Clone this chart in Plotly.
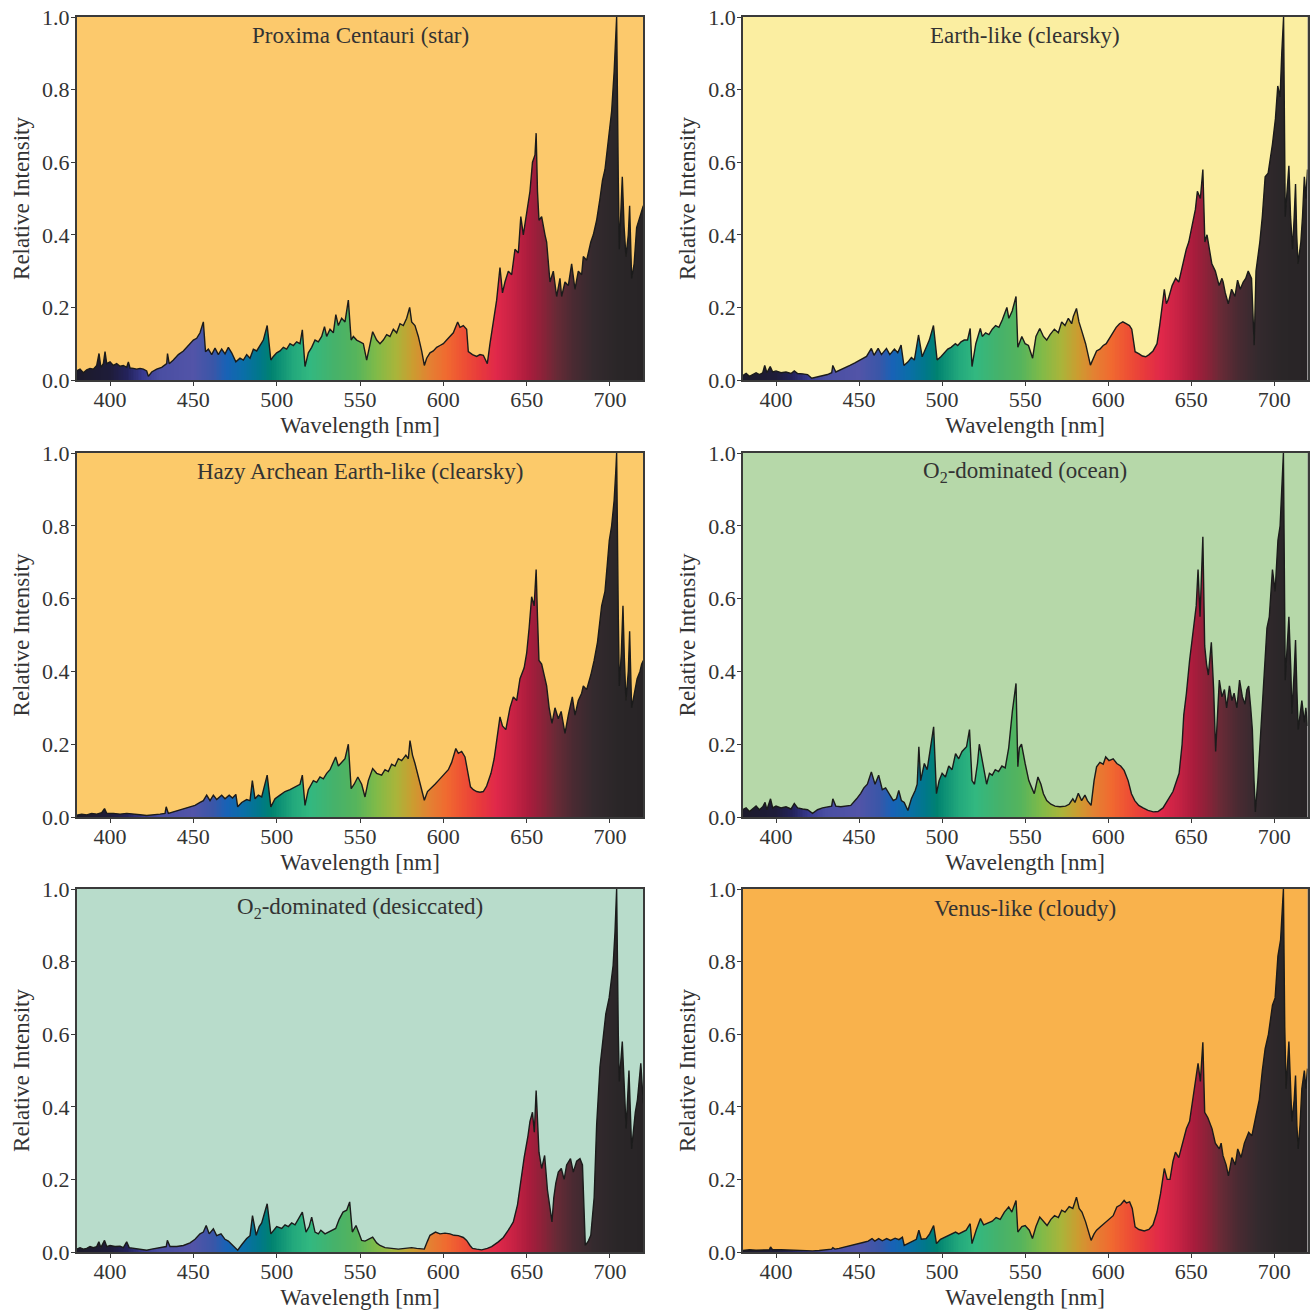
import plotly.graph_objects as go

# ---------------- data ----------------
panel_titles = [
    "Proxima Centauri (star)",
    "Earth-like (clearsky)",
    "Hazy Archean Earth-like (clearsky)",
    "O<sub>2</sub>-dominated (ocean)",
    "O<sub>2</sub>-dominated (desiccated)",
    "Venus-like (cloudy)",
]
panel_bg = ["#fcc96c", "#fbeea1", "#fcca6a", "#b6d8a9", "#b8dccb", "#f9b24c"]

x_ticks = [400, 450, 500, 550, 600, 650, 700]
y_ticks = [0.0, 0.2, 0.4, 0.6, 0.8, 1.0]

proxima_wl = [380, 382, 384, 386, 388, 390, 392, 393.4, 394.5, 396, 397, 398, 400, 402, 404, 406, 408, 410, 411, 412, 414, 416, 418, 420, 422, 423, 425, 428, 431, 434, 434.5, 435.5, 438, 441, 444, 447, 450, 452, 454, 456, 457.3, 459, 461, 463, 465, 467, 469, 471, 473, 475.5, 478, 480, 482, 484, 486, 488, 490, 492, 494.3, 496.5, 498, 500, 502, 504, 506, 508, 510, 512, 514, 515.4, 517, 519, 521, 523, 525, 527, 528.7, 530, 532, 534, 535.5, 537, 539, 541, 543, 544.7, 546, 548, 550, 552, 554, 556, 557.6, 560, 562, 564, 566, 568, 570, 572, 574, 576, 578, 579.8, 581, 583, 585, 587, 588.6, 590, 592, 594, 596, 598, 600, 602, 604, 606, 608.6, 610, 612, 614, 615, 617.5, 620, 622, 624, 626.4, 628, 630, 632, 634, 635.5, 637, 639, 641, 643, 645, 646.5, 648, 650, 652, 653.5, 655, 655.7, 656.5, 657.4, 659, 661, 662, 664, 666, 668, 670, 671, 673, 675, 677, 679, 681, 683, 684, 686, 688.5, 690, 692, 694, 695.5, 697, 699.6, 701, 702.5, 703.5, 704, 705, 705.6, 707.4, 708.5, 709.6, 711, 711.8, 713, 714.5, 716, 718, 720]
proxima_val = [0.025, 0.03, 0.02, 0.028, 0.032, 0.03, 0.04, 0.073, 0.035, 0.045, 0.078, 0.045, 0.05, 0.04, 0.045, 0.038, 0.04, 0.035, 0.05, 0.033, 0.032, 0.03, 0.032, 0.03, 0.025, 0.01, 0.022, 0.03, 0.035, 0.045, 0.073, 0.045, 0.055, 0.07, 0.08, 0.095, 0.11, 0.115, 0.13, 0.16, 0.078, 0.085, 0.07, 0.088, 0.07, 0.085, 0.072, 0.09, 0.075, 0.05, 0.06, 0.055, 0.07, 0.06, 0.085, 0.08, 0.095, 0.11, 0.15, 0.055, 0.065, 0.075, 0.08, 0.09, 0.085, 0.10, 0.095, 0.105, 0.10, 0.138, 0.037, 0.075, 0.09, 0.11, 0.105, 0.12, 0.147, 0.12, 0.14, 0.13, 0.18, 0.15, 0.17, 0.16, 0.22, 0.11, 0.12, 0.11, 0.105, 0.10, 0.055, 0.10, 0.133, 0.11, 0.10, 0.11, 0.125, 0.12, 0.14, 0.13, 0.155, 0.15, 0.17, 0.20, 0.16, 0.15, 0.12, 0.08, 0.04, 0.06, 0.075, 0.08, 0.09, 0.095, 0.10, 0.11, 0.12, 0.13, 0.16, 0.145, 0.15, 0.14, 0.078, 0.07, 0.065, 0.07, 0.068, 0.045, 0.10, 0.16, 0.22, 0.31, 0.24, 0.27, 0.30, 0.29, 0.36, 0.35, 0.45, 0.40, 0.46, 0.52, 0.60, 0.62, 0.68, 0.52, 0.44, 0.45, 0.40, 0.38, 0.27, 0.30, 0.23, 0.28, 0.23, 0.27, 0.26, 0.32, 0.25, 0.30, 0.29, 0.34, 0.33, 0.38, 0.40, 0.44, 0.50, 0.55, 0.58, 0.68, 0.74, 0.85, 0.94, 1.0, 0.55, 0.36, 0.56, 0.42, 0.34, 0.40, 0.48, 0.28, 0.32, 0.42, 0.45, 0.48]

earth_wl = [380, 382, 384, 386, 388, 390, 392, 393.2, 394.5, 396.5, 398, 400, 403, 406, 409, 411, 413, 416, 419, 421.5, 425, 428, 431, 433.5, 434.2, 436, 439, 441.5, 444.5, 447.5, 450.5, 452.5, 454.5, 457.4, 459, 461.5, 463.5, 466.5, 468.5, 471.3, 473.3, 475.3, 477, 479.5, 481.5, 483.3, 485.8, 488, 490.3, 492.3, 494.8, 497, 499.4, 501.4, 503.4, 505.4, 508, 509.4, 511.4, 513.3, 515.3, 516.9, 518, 520.3, 523, 524.2, 526.2, 528.2, 530.2, 532.2, 534.2, 536.2, 539, 540.2, 542.2, 544.5, 545.6, 548, 550, 552, 554.5, 556.5, 558.8, 561, 563, 565, 567.6, 570, 572, 574, 576, 578, 579, 580.9, 582.4, 583.9, 586.4, 589.3, 591, 593, 595, 597, 598.8, 600.8, 602.8, 604.8, 606.8, 608.8, 610.8, 612.8, 614.2, 616.2, 618.6, 620.6, 622.6, 624.6, 627, 629.4, 631, 632.5, 633.8, 635, 636, 638.5, 640.6, 642.5, 644.5, 647, 648.5, 650.5, 652.5, 653.7, 655.5, 657, 658.2, 659.5, 661, 662.4, 664.5, 666.8, 668.5, 669.2, 670.5, 672.3, 674.3, 676.3, 677.9, 679.5, 681.3, 682.8, 684.3, 686.3, 687.9, 689, 691.3, 692.8, 694.5, 696.3, 698.9, 700.7, 702.1, 703.5, 704.5, 705.6, 706.6, 707.5, 708.8, 709.8, 711, 712, 712.8, 713.5, 714.3, 716, 717, 718.1, 719, 720]
earth_val = [0.012, 0.018, 0.01, 0.015, 0.02, 0.015, 0.02, 0.04, 0.02, 0.037, 0.022, 0.025, 0.02, 0.022, 0.018, 0.025, 0.018, 0.017, 0.015, 0.005, 0.008, 0.012, 0.015, 0.02, 0.04, 0.022, 0.028, 0.032, 0.04, 0.047, 0.055, 0.06, 0.065, 0.087, 0.068, 0.087, 0.07, 0.087, 0.07, 0.085, 0.075, 0.096, 0.04, 0.05, 0.062, 0.055, 0.124, 0.064, 0.09, 0.11, 0.15, 0.055, 0.065, 0.075, 0.085, 0.09, 0.10, 0.095, 0.105, 0.11, 0.11, 0.142, 0.037, 0.10, 0.142, 0.12, 0.13, 0.125, 0.14, 0.15, 0.145, 0.165, 0.20, 0.17, 0.19, 0.23, 0.09, 0.12, 0.10, 0.095, 0.06, 0.12, 0.142, 0.12, 0.11, 0.125, 0.14, 0.13, 0.16, 0.15, 0.17, 0.155, 0.175, 0.197, 0.16, 0.138, 0.10, 0.041, 0.06, 0.08, 0.085, 0.095, 0.10, 0.115, 0.13, 0.145, 0.155, 0.16, 0.155, 0.15, 0.14, 0.078, 0.072, 0.066, 0.064, 0.07, 0.08, 0.10, 0.15, 0.20, 0.25, 0.21, 0.22, 0.26, 0.28, 0.27, 0.31, 0.36, 0.38, 0.43, 0.47, 0.52, 0.50, 0.58, 0.38, 0.40, 0.36, 0.32, 0.30, 0.26, 0.28, 0.27, 0.24, 0.21, 0.25, 0.23, 0.275, 0.25, 0.27, 0.28, 0.30, 0.28, 0.096, 0.30, 0.38, 0.45, 0.56, 0.57, 0.65, 0.72, 0.81, 0.78, 0.90, 1.0, 0.45, 0.50, 0.59, 0.45, 0.36, 0.45, 0.54, 0.40, 0.32, 0.38, 0.45, 0.56, 0.50, 0.58]

hazy_wl = [380, 383, 386, 389, 392, 395, 396.7, 398, 402, 406, 410, 414, 418, 422, 426, 430, 433, 433.7, 435, 438, 442, 446, 451, 454, 456, 458, 460, 462, 464, 467, 469, 471.5, 473.5, 475.5, 476.6, 479, 482, 484, 485.4, 487, 489, 491, 493, 494.3, 496.5, 499, 502, 505, 508, 510, 512, 514, 515.4, 517, 519, 522, 524, 526, 528, 530, 532, 535.4, 537, 539, 541, 543, 544.7, 546.5, 548.7, 551, 553, 555, 557.6, 560, 563, 565, 567, 569, 571, 573, 575, 577.5, 579, 580, 581.5, 583, 585, 587, 588.6, 590.5, 593, 595, 597, 599, 601, 603, 605, 607.5, 609, 611, 613, 615, 616.3, 618, 620, 622, 624, 626, 628.6, 630.5, 632.5, 634, 635.5, 637.5, 640, 642, 644, 646, 648.5, 650, 651.5, 653, 654.5, 655.7, 656.5, 657.4, 659, 660.5, 662, 663.5, 665.2, 667, 669, 670.7, 673, 675, 677.4, 679, 681, 683, 684, 686, 688.5, 690.5, 692.5, 695, 697, 698.5, 699.6, 701, 702.5, 703.5, 704, 705, 705.6, 706.8, 707.8, 708.6, 709.6, 711, 711.8, 713, 714.8, 716.3, 718, 719, 720]
hazy_val = [0.005, 0.008, 0.006, 0.01, 0.008, 0.012, 0.023, 0.01, 0.01, 0.008, 0.01, 0.007, 0.006, 0.004, 0.005, 0.008, 0.01, 0.028, 0.01, 0.014, 0.018, 0.025, 0.032, 0.04, 0.045, 0.06, 0.045, 0.06, 0.048, 0.06, 0.05, 0.06, 0.052, 0.062, 0.028, 0.04, 0.048, 0.045, 0.10, 0.05, 0.06, 0.055, 0.09, 0.115, 0.028, 0.05, 0.06, 0.07, 0.075, 0.08, 0.085, 0.09, 0.115, 0.032, 0.075, 0.10, 0.095, 0.11, 0.105, 0.12, 0.13, 0.165, 0.14, 0.15, 0.16, 0.20, 0.078, 0.09, 0.11, 0.09, 0.055, 0.10, 0.133, 0.12, 0.115, 0.13, 0.125, 0.145, 0.14, 0.16, 0.155, 0.17, 0.16, 0.21, 0.17, 0.147, 0.11, 0.08, 0.046, 0.07, 0.08, 0.09, 0.10, 0.11, 0.12, 0.13, 0.15, 0.188, 0.175, 0.18, 0.165, 0.12, 0.083, 0.075, 0.07, 0.068, 0.07, 0.085, 0.12, 0.16, 0.22, 0.275, 0.25, 0.24, 0.30, 0.33, 0.32, 0.38, 0.41, 0.45, 0.52, 0.605, 0.58, 0.68, 0.55, 0.43, 0.42, 0.39, 0.36, 0.30, 0.257, 0.30, 0.27, 0.29, 0.23, 0.28, 0.33, 0.28, 0.32, 0.34, 0.36, 0.35, 0.39, 0.43, 0.48, 0.58, 0.62, 0.70, 0.76, 0.80, 0.87, 0.95, 1.0, 0.55, 0.36, 0.45, 0.58, 0.44, 0.32, 0.40, 0.51, 0.30, 0.34, 0.38, 0.40, 0.42, 0.43]

o2_ocean_wl = [380, 382, 384, 386, 388, 390, 392, 393.4, 394.5, 396.7, 398, 400, 403, 406, 409, 411, 413, 416, 419, 422, 425, 428, 431, 433.5, 434.2, 436, 439, 442, 445, 448.5, 451, 452.9, 455, 457.4, 459.6, 461.8, 464, 466, 468.4, 470.6, 472.5, 473.9, 475.5, 477.2, 479.4, 481.5, 483.8, 485, 486, 487.1, 489.3, 491, 493, 494.9, 496.6, 498.2, 500, 502, 504, 506, 508.1, 510, 512, 514.7, 516.5, 518, 519.5, 521.3, 522.4, 524.5, 526.8, 528.5, 530.2, 532, 534, 536, 538, 540.1, 542.3, 544.5, 545.6, 546.5, 547.8, 550, 552.2, 554, 555.5, 557.7, 559.5, 561, 563, 565.5, 568, 571, 574.3, 576.5, 578.7, 580, 582, 584, 586, 587.5, 589.7, 591.5, 593, 595, 597, 598.5, 600.5, 603, 605.2, 607.5, 609.6, 612, 614, 616, 618.4, 621, 624, 627.2, 630, 633, 636, 639, 642.7, 644.5, 645.5, 647.1, 649, 651.5, 653, 654.1, 655.3, 657, 658.1, 659.2, 660.3, 662.1, 663.5, 664.7, 665.8, 666.9, 668.5, 670, 671.3, 673, 674.5, 675.8, 677.5, 679.1, 680.8, 682.4, 683.5, 684.6, 685.8, 686.8, 687.8, 688.6, 690.1, 692, 693.8, 695.6, 697, 698.9, 700.5, 702.2, 703.5, 704.5, 705.5, 706.6, 707.5, 708.8, 710, 710.6, 712, 712.8, 713.6, 714.4, 715.5, 716.6, 718.1, 719, 720]
o2_ocean_val = [0.02, 0.025, 0.015, 0.022, 0.03, 0.02, 0.028, 0.04, 0.02, 0.05, 0.025, 0.03, 0.025, 0.028, 0.022, 0.037, 0.025, 0.022, 0.02, 0.01, 0.02, 0.025, 0.028, 0.03, 0.05, 0.03, 0.028, 0.03, 0.032, 0.05, 0.065, 0.08, 0.09, 0.124, 0.09, 0.115, 0.075, 0.08, 0.06, 0.045, 0.05, 0.073, 0.045, 0.04, 0.018, 0.05, 0.073, 0.09, 0.193, 0.10, 0.147, 0.13, 0.19, 0.248, 0.064, 0.10, 0.12, 0.11, 0.14, 0.13, 0.174, 0.16, 0.18, 0.193, 0.24, 0.10, 0.09, 0.147, 0.20, 0.15, 0.09, 0.12, 0.115, 0.13, 0.125, 0.14, 0.135, 0.19, 0.29, 0.367, 0.138, 0.19, 0.20, 0.147, 0.10, 0.08, 0.064, 0.11, 0.09, 0.064, 0.045, 0.035, 0.03, 0.028, 0.03, 0.035, 0.05, 0.04, 0.065, 0.045, 0.06, 0.045, 0.032, 0.10, 0.138, 0.15, 0.145, 0.165, 0.155, 0.16, 0.147, 0.14, 0.128, 0.10, 0.064, 0.045, 0.032, 0.025, 0.018, 0.014, 0.015, 0.025, 0.046, 0.07, 0.12, 0.20, 0.28, 0.34, 0.43, 0.53, 0.58, 0.68, 0.55, 0.77, 0.47, 0.42, 0.39, 0.48, 0.35, 0.18, 0.30, 0.376, 0.33, 0.35, 0.30, 0.36, 0.32, 0.34, 0.30, 0.376, 0.33, 0.31, 0.35, 0.36, 0.30, 0.24, 0.10, 0.014, 0.10, 0.25, 0.40, 0.52, 0.55, 0.68, 0.62, 0.76, 0.80, 0.90, 1.0, 0.376, 0.45, 0.55, 0.40, 0.284, 0.40, 0.486, 0.35, 0.24, 0.28, 0.32, 0.26, 0.30, 0.25]

o2_desic_wl = [380, 382, 384, 386, 388, 390, 392, 393.3, 394.5, 396.7, 398, 400, 403, 406, 408, 410, 411.5, 414, 418, 422, 425, 428, 431, 433.7, 434.4, 436, 440, 444, 448, 451, 454, 456, 457.7, 459.5, 462, 464, 466.6, 469, 471, 473, 476.6, 479, 482, 484, 485.5, 487.7, 489.5, 491, 493, 494.3, 496.5, 498.5, 500, 503, 505, 507, 509, 511, 513, 515.4, 517.6, 519.5, 521, 523, 525, 526.5, 529, 531, 533, 535.4, 537.5, 539.8, 542, 543.8, 545.4, 547.6, 549.5, 551, 553, 555, 557.6, 560, 562, 565, 569, 573, 577, 581, 584, 588.6, 590.5, 592, 595.3, 598, 601, 604, 606.4, 609, 612, 614, 616, 617.5, 620, 623, 626.4, 629, 633, 636, 639, 642, 644.5, 646.3, 648.5, 650.8, 652, 653.5, 654.6, 655.7, 656.5, 657.4, 659, 660.8, 662.5, 664, 665.2, 666.3, 667.5, 669, 670.8, 672.5, 674, 676.3, 678, 680, 682, 683.5, 684.5, 685.2, 687, 688.5, 690.5, 692, 694, 695.5, 697.5, 699.5, 701.9, 703, 704, 705, 705.6, 707.4, 708.5, 709.7, 711.4, 712.2, 713, 715.2, 716.5, 718.5, 719.3, 720]
o2_desic_val = [0.008, 0.012, 0.008, 0.01, 0.015, 0.012, 0.015, 0.028, 0.012, 0.032, 0.015, 0.018, 0.015, 0.016, 0.012, 0.028, 0.012, 0.01, 0.008, 0.005, 0.008, 0.01, 0.012, 0.015, 0.032, 0.015, 0.015, 0.018, 0.025, 0.035, 0.05, 0.055, 0.073, 0.05, 0.064, 0.045, 0.05, 0.035, 0.03, 0.02, 0.005, 0.02, 0.037, 0.045, 0.10, 0.046, 0.07, 0.08, 0.11, 0.133, 0.05, 0.06, 0.07, 0.065, 0.075, 0.07, 0.08, 0.075, 0.09, 0.11, 0.055, 0.07, 0.096, 0.055, 0.05, 0.06, 0.05, 0.055, 0.06, 0.065, 0.09, 0.11, 0.115, 0.138, 0.055, 0.073, 0.05, 0.032, 0.03, 0.035, 0.041, 0.025, 0.018, 0.012, 0.01, 0.008, 0.01, 0.012, 0.01, 0.008, 0.03, 0.046, 0.055, 0.05, 0.052, 0.05, 0.046, 0.045, 0.04, 0.032, 0.018, 0.01, 0.008, 0.006, 0.01, 0.015, 0.028, 0.04, 0.06, 0.083, 0.13, 0.19, 0.26, 0.32, 0.36, 0.385, 0.33, 0.445, 0.35, 0.275, 0.23, 0.266, 0.17, 0.12, 0.083, 0.15, 0.19, 0.22, 0.23, 0.20, 0.24, 0.257, 0.22, 0.25, 0.257, 0.24, 0.10, 0.018, 0.03, 0.046, 0.15, 0.35, 0.51, 0.58, 0.656, 0.70, 0.79, 0.88, 1.0, 0.60, 0.47, 0.58, 0.45, 0.34, 0.50, 0.38, 0.284, 0.385, 0.42, 0.52, 0.45, 0.41]

venus_wl = [380, 384, 388, 392, 396, 396.7, 398, 403, 408, 413, 418, 422, 426, 430, 433.5, 434.2, 435.5, 438, 441.9, 446, 450.7, 453, 455.5, 457.8, 459.5, 461.8, 464, 466.6, 469, 471.7, 474, 476.1, 477.2, 480, 482.5, 484.5, 486, 487.5, 490.4, 492.5, 494.9, 496.6, 499, 502, 505, 508.1, 510, 512, 514.5, 516.9, 518, 520.5, 523.1, 525, 527.5, 530.2, 532.5, 535, 537.5, 540.1, 542, 544.5, 545.6, 548, 550, 552.5, 554.4, 556.5, 558.8, 561, 563.2, 565.5, 567.7, 570, 572, 574, 576.5, 578.7, 580.9, 582.5, 584.2, 586.4, 589.7, 591.5, 593, 595.5, 598, 600.5, 603, 605.2, 607.5, 609.6, 611, 612.9, 614.5, 616.2, 618.5, 621.7, 624.5, 627, 629.4, 631.5, 633.8, 635.5, 637.2, 639, 640.5, 642.5, 645, 647.1, 649, 651, 652.6, 654.1, 655.5, 657, 658.1, 660, 662.5, 664.5, 666.9, 668, 669.1, 671, 672.4, 674.5, 676.5, 678, 680, 682, 684.6, 686.5, 689, 691, 692.8, 694.5, 696.5, 698.9, 700.5, 702.2, 703.8, 705.5, 706.3, 707.1, 708.8, 709.7, 710.6, 712, 712.8, 713.6, 714.4, 715.5, 716.6, 718.1, 719, 720]
venus_val = [0.004, 0.006, 0.005, 0.006, 0.006, 0.014, 0.006, 0.006, 0.005, 0.005, 0.004, 0.003, 0.004, 0.006, 0.008, 0.012, 0.008, 0.01, 0.014, 0.018, 0.023, 0.027, 0.03, 0.037, 0.03, 0.037, 0.031, 0.037, 0.032, 0.038, 0.034, 0.041, 0.018, 0.025, 0.03, 0.035, 0.06, 0.035, 0.037, 0.05, 0.073, 0.023, 0.035, 0.042, 0.048, 0.055, 0.05, 0.055, 0.06, 0.078, 0.023, 0.06, 0.092, 0.075, 0.08, 0.085, 0.095, 0.09, 0.11, 0.124, 0.11, 0.142, 0.055, 0.07, 0.073, 0.06, 0.037, 0.07, 0.096, 0.085, 0.073, 0.09, 0.10, 0.095, 0.115, 0.11, 0.125, 0.12, 0.151, 0.12, 0.11, 0.083, 0.032, 0.05, 0.06, 0.07, 0.08, 0.09, 0.10, 0.124, 0.13, 0.142, 0.135, 0.138, 0.12, 0.069, 0.062, 0.058, 0.062, 0.075, 0.11, 0.16, 0.23, 0.20, 0.20, 0.25, 0.275, 0.26, 0.30, 0.34, 0.36, 0.42, 0.47, 0.52, 0.47, 0.578, 0.385, 0.37, 0.34, 0.30, 0.284, 0.30, 0.266, 0.24, 0.21, 0.26, 0.24, 0.284, 0.26, 0.30, 0.33, 0.32, 0.376, 0.42, 0.50, 0.56, 0.60, 0.68, 0.70, 0.816, 0.86, 1.0, 0.62, 0.45, 0.58, 0.45, 0.36, 0.42, 0.486, 0.35, 0.284, 0.35, 0.45, 0.50, 0.45, 0.505]

# visible-spectrum colour ramp (wavelength -> colour)
ramp_stop_nm = [380, 400, 410, 420, 430, 450, 462, 470, 480, 490, 497, 510, 520, 535, 548, 560, 572, 582, 592, 602, 612, 622, 632, 642, 652, 660, 668, 678, 690, 705, 720]
ramp_stop_col = ["#1c1a2a", "#1e1c3a", "#23225a", "#383a90", "#4a4ea2", "#5254a8", "#3a56a8", "#1862b6",
                 "#0a6ea8", "#00788a", "#008270", "#22a87c", "#32b880", "#46b26a", "#56b45c", "#80ba48",
                 "#aab43a", "#cc9c30", "#e48032", "#f06a30", "#ee5034", "#e83a3c", "#e0284a", "#c82244",
                 "#a81c3c", "#8a2238", "#682a36", "#4a2a32", "#342a2e", "#2a2628", "#282426"]

# ---------------- figure ----------------
W, H = 1310, 1312
FONT = "Liberation Serif"
TXT = "#333333"
FRAME = "#3a3a3a"

series = [
    (proxima_wl, proxima_val), (earth_wl, earth_val),
    (hazy_wl, hazy_val), (o2_ocean_wl, o2_ocean_val),
    (o2_desic_wl, o2_desic_val), (venus_wl, venus_val),
]

x_px = [(76.7, 643.3), (742.8, 1307.5)]
y_px = [(17, 380), (453, 817), (889, 1252)]
x_dom = [[a / W, b / W] for (a, b) in x_px]
y_dom = [[1 - b / H, 1 - t / H] for (t, b) in y_px]

lo, hi = ramp_stop_nm[0], ramp_stop_nm[-1]
colorscale = [[(w - lo) / (hi - lo), c] for w, c in zip(ramp_stop_nm, ramp_stop_col)]
ramp_nm = list(range(lo, hi + 1))

fig = go.Figure()
layout = dict(
    width=W, height=H, margin=dict(l=0, r=0, t=0, b=0, autoexpand=False),
    paper_bgcolor="white", plot_bgcolor="white", showlegend=False,
    font=dict(family=FONT, color=TXT, size=22),
)
annotations = []

for i, ((wl, val), title, bg) in enumerate(zip(series, panel_titles, panel_bg)):
    r, c = divmod(i, 2)
    n = "" if i == 0 else str(i + 1)
    xa, ya = "x" + n, "y" + n

    fig.add_trace(go.Heatmap(
        x=ramp_nm, y=[0, 1], z=[ramp_nm, ramp_nm], colorscale=colorscale,
        zmin=lo, zmax=hi, showscale=False, hoverinfo="skip", xaxis=xa, yaxis=ya))
    # upper boundary for the background-coloured mask above the spectrum
    fig.add_trace(go.Scatter(
        x=[lo - 1, hi + 1], y=[1.05, 1.05], mode="lines", line=dict(width=0),
        hoverinfo="skip", xaxis=xa, yaxis=ya))
    fig.add_trace(go.Scatter(
        x=wl, y=val, mode="lines", line=dict(color="#1b1b1b", width=1.4),
        fill="tonexty", fillcolor=bg, xaxis=xa, yaxis=ya))

    layout["xaxis" + n] = dict(
        domain=x_dom[c], anchor=ya, range=[380, 720], tickvals=x_ticks,
        ticks="outside", ticklen=4, tickwidth=1, tickcolor=FRAME, automargin=False,
        ticklabelstandoff=-5, ticklabeloverflow="allow",
        showline=True, linecolor=FRAME, linewidth=1.5, mirror=True,
        showgrid=False, zeroline=False, tickfont=dict(size=22),
        title=dict(text="Wavelength [nm]", font=dict(size=23), standoff=6))
    layout["yaxis" + n] = dict(
        domain=y_dom[r], anchor=xa, range=[0, 1], tickvals=y_ticks, tickformat=".1f",
        ticks="outside", ticklen=4, tickwidth=1, tickcolor=FRAME, automargin=False,
        ticklabelstandoff=-3, ticklabeloverflow="allow",
        showline=True, linecolor=FRAME, linewidth=1.5, mirror=True,
        showgrid=False, zeroline=False, tickfont=dict(size=22),
        title=dict(text="Relative Intensity", font=dict(size=23), standoff=6))

    annotations.append(dict(
        text=title, xref=xa + " domain", yref=ya + " domain", x=0.5, y=1,
        xanchor="center", yanchor="middle", yshift=-19, showarrow=False,
        font=dict(size=23, color=TXT, family=FONT)))

layout["annotations"] = annotations
fig.update_layout(**layout)
# remove the default 8 px page margin so the figure fills the window exactly
fig.write_html("out.html", config={"displayModeBar": False},
               post_script="document.body.style.margin='0';")
